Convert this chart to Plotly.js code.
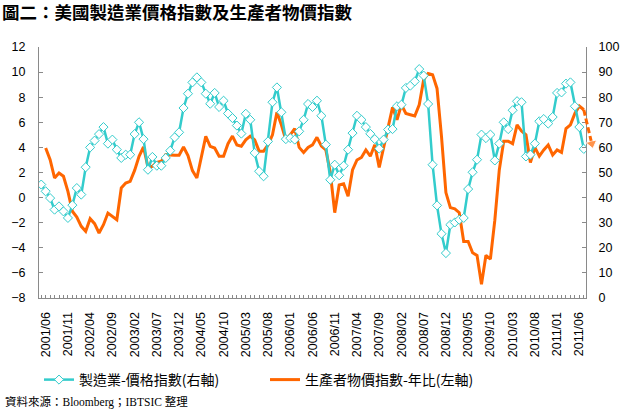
<!DOCTYPE html>
<html>
<head>
<meta charset="utf-8">
<script src="https://cdn.plot.ly/plotly-3.0.1.min.js"></script>
<style>html,body{margin:0;padding:0;background:#fff;}#chart{width:631px;height:416px;}</style>
</head>
<body>
<div id="chart"></div>
<script>
const months = [
  "2001/05","2001/06","2001/07","2001/08","2001/09","2001/10","2001/11","2001/12",
  "2002/01","2002/02","2002/03","2002/04","2002/05","2002/06","2002/07","2002/08","2002/09","2002/10","2002/11","2002/12",
  "2003/01","2003/02","2003/03","2003/04","2003/05","2003/06","2003/07","2003/08","2003/09","2003/10","2003/11","2003/12",
  "2004/01","2004/02","2004/03","2004/04","2004/05","2004/06","2004/07","2004/08","2004/09","2004/10","2004/11","2004/12",
  "2005/01","2005/02","2005/03","2005/04","2005/05","2005/06","2005/07","2005/08","2005/09","2005/10","2005/11","2005/12",
  "2006/01","2006/02","2006/03","2006/04","2006/05","2006/06","2006/07","2006/08","2006/09","2006/10","2006/11","2006/12",
  "2007/01","2007/02","2007/03","2007/04","2007/05","2007/06","2007/07","2007/08","2007/09","2007/10","2007/11","2007/12",
  "2008/01","2008/02","2008/03","2008/04","2008/05","2008/06","2008/07","2008/08","2008/09","2008/10","2008/11","2008/12",
  "2009/01","2009/02","2009/03","2009/04","2009/05","2009/06","2009/07","2009/08","2009/09","2009/10","2009/11","2009/12",
  "2010/01","2010/02","2010/03","2010/04","2010/05","2010/06","2010/07","2010/08","2010/09","2010/10","2010/11","2010/12",
  "2011/01","2011/02","2011/03","2011/04","2011/05","2011/06","2011/07"
];

const tickLabels = ["2001/06","2001/11","2002/04","2002/09","2003/02","2003/07","2003/12","2004/05","2004/10",
  "2005/03","2005/08","2006/01","2006/06","2006/11","2007/04","2007/09","2008/02","2008/07","2008/12",
  "2009/05","2009/10","2010/03","2010/08","2011/01","2011/06"];

// 製造業-價格指數 (right axis)
const ismPrices = [
  45.2,42.5,39.8,35.2,36.5,34.5,31.9,37.0,
  43.8,41.2,52.1,60.0,62.7,65.3,68.1,61.5,63.1,59.1,55.8,57.1,
  57.1,65.3,70.0,63.3,51.1,56.2,52.7,52.7,55.8,58.7,64.0,66.0,
  75.7,81.4,85.9,87.9,85.9,81.4,77.4,81.7,76.1,78.6,73.5,71.7,
  68.7,65.5,73.4,71.0,57.8,50.5,48.5,62.4,78.0,83.9,74.0,63.3,
  63.7,63.1,66.4,71.0,77.3,76.1,78.6,72.6,61.1,47.1,53.1,48.9,
  52.7,59.1,65.7,72.6,71.0,68.1,65.4,63.3,59.5,63.1,67.1,67.3,
  76.4,77.0,83.7,84.6,86.3,91.2,88.6,77.3,53.1,36.9,25.6,17.9,
  29.2,30.1,31.2,31.9,43.4,50.1,55.1,65.1,63.7,65.1,54.8,61.5,
  70.0,67.3,74.8,78.4,78.0,56.4,57.1,61.5,70.4,71.3,69.5,72.1,
  81.7,81.9,85.4,85.9,76.4,68.1,59.4
];

// 生產者物價指數-年比 (left axis)
const ppiYoY = [
  null,3.95,3.02,1.56,1.96,1.70,0.50,-1.09,
  -1.55,-2.29,-2.69,-1.68,-2.08,-2.82,-2.16,-1.23,-1.49,-1.76,0.77,1.16,
  1.30,2.17,3.29,4.03,2.44,2.49,2.81,2.89,3.42,3.37,3.37,3.37,
  4.03,3.34,2.15,1.56,3.29,4.88,4.09,3.95,3.29,3.29,4.3,4.9,
  4.2,4.1,4.6,4.9,4.6,3.7,3.7,4.2,5.0,6.8,5.8,4.6,
  5.0,5.5,4.0,3.6,4.0,4.2,4.8,4.1,3.8,2.0,-1.2,1.0,
  1.1,0.1,2.2,3.0,3.2,3.8,3.3,4.2,2.4,3.9,5.6,7.2,
  6.2,7.4,6.7,6.6,6.5,7.4,9.4,9.9,9.8,8.7,4.9,0.4,
  -0.8,-0.9,-1.2,-3.5,-3.5,-4.4,-4.6,-6.9,-4.6,-4.9,-1.8,2.2,
  4.5,4.5,4.3,5.8,5.3,5.0,2.8,4.0,3.3,3.8,4.2,3.4,
  3.8,3.6,5.5,5.8,6.7,7.3,7.0
];

// dashed outlook arrow for PPI (position in months from start, value)
const outlookPos = [122, 123.8];
const outlookVal = [7.0, 4.3];

const idx = months.map((m, i) => i);
const tickVals = tickLabels.map(l => months.indexOf(l));

const cjk = '"Noto Sans CJK TC", "Noto Sans CJK SC", sans-serif';
const num = '"Liberation Sans", Arial, sans-serif';
const axisGrey = '#8a8a8a';

const W = 631, H = 416, L = 39, R = 31, T = 47, B = 118;
const plotRight = 586;
const paperW = W - L - R;
const xDomEnd = (plotRight - L) / paperW;
const pxPerMonth = (plotRight - L) / months.length;

const traces = [
  {
    x: idx, y: ppiYoY, xaxis: 'x', yaxis: 'y', type: 'scatter', mode: 'lines',
    name: '生產者物價指數-年比(左軸)', legendrank: 2,
    line: {color: '#FF6600', width: 3}, connectgaps: false
  },
  {
    x: idx, y: ismPrices, xaxis: 'x', yaxis: 'y2', type: 'scatter', mode: 'lines+markers',
    name: '製造業-價格指數(右軸)', legendrank: 1,
    line: {color: '#33CCCC', width: 2.5},
    marker: {symbol: 'diamond', size: 7, color: '#ffffff', line: {color: '#33CCCC', width: 1}}
  },
  {
    x: outlookPos, y: outlookVal, xaxis: 'x3', yaxis: 'y3', type: 'scatter', mode: 'lines+markers',
    showlegend: false, hoverinfo: 'skip',
    line: {color: '#FF6600', width: 3, dash: '6px,3px'},
    marker: {symbol: 'triangle-up', size: [0, 10], color: '#FF6600', angleref: 'previous'},
    cliponaxis: false
  }
];

const layout = {
  width: W, height: H,
  margin: {l: L, r: R, t: T, b: B, pad: 0},
  paper_bgcolor: '#ffffff', plot_bgcolor: 'rgba(0,0,0,0)',
  showlegend: true,
  title: {
    text: '<b>圖二：美國製造業價格指數及生產者物價指數</b>',
    font: {family: cjk, size: 17.5, color: '#000'},
    xref: 'container', x: 2 / W, xanchor: 'left',
    yref: 'container', y: 1 - 13 / H, yanchor: 'middle'
  },
  xaxis: {
    domain: [0, xDomEnd], range: [-0.5, months.length - 0.5],
    tickmode: 'array', tickvals: tickVals, ticktext: tickLabels,
    tickangle: -90, tickfont: {family: num, size: 12.5, color: '#000'},
    ticks: 'inside', ticklen: 3, tickcolor: axisGrey, tickwidth: 1,
    minor: {tickmode: 'linear', tick0: 0, dtick: 1, ticks: 'inside', ticklen: 3, tickcolor: axisGrey, tickwidth: 1, showgrid: false},
    showline: true, linecolor: axisGrey, linewidth: 1,
    showgrid: false, zeroline: false, ticklabelstandoff: 8, fixedrange: true
  },
  yaxis: {
    range: [-8, 12], tickmode: 'linear', tick0: -8, dtick: 2,
    tickfont: {family: num, size: 12.5, color: '#000'},
    ticks: 'inside', ticklen: 4, tickcolor: axisGrey,
    showline: true, linecolor: axisGrey, linewidth: 1,
    showgrid: false, zeroline: false, ticklabelstandoff: 10, fixedrange: true
  },
  yaxis2: {
    range: [0, 100], tickmode: 'linear', tick0: 0, dtick: 10,
    overlaying: 'y', side: 'right', anchor: 'x',
    tickfont: {family: num, size: 12.5, color: '#000'},
    ticks: 'inside', ticklen: 4, tickcolor: axisGrey,
    showline: true, linecolor: axisGrey, linewidth: 1,
    showgrid: false, zeroline: false, ticklabelstandoff: 9, fixedrange: true
  },
  xaxis3: {
    domain: [0, 1], range: [-0.5, -0.5 + paperW / pxPerMonth], anchor: 'y3',
    visible: false, fixedrange: true
  },
  yaxis3: {
    domain: [0, 1], range: [-8, 12], anchor: 'x3', visible: false, fixedrange: true
  },
  legend: {
    orientation: 'h', x: 0.0, xanchor: 'left', y: (298 - 380) / (H - T - B), yanchor: 'middle',
    font: {family: cjk, size: 14, color: '#000'},
    entrywidth: 181, entrywidthmode: 'pixels',
    bgcolor: 'rgba(0,0,0,0)', traceorder: 'normal'
  },
  annotations: [{
    text: '資料來源：Bloomberg；IBTSIC 整理',
    xref: 'paper', yref: 'paper', x: (3 - L) / paperW, xanchor: 'left',
    y: (298 - 402) / (H - T - B), yanchor: 'middle', showarrow: false,
    font: {family: '"Liberation Serif", "Noto Sans CJK TC", serif', size: 11.5, color: '#000'}
  }]
};

Plotly.newPlot('chart', traces, layout, {displayModeBar: false, staticPlot: true});
</script>
</body>
</html>
